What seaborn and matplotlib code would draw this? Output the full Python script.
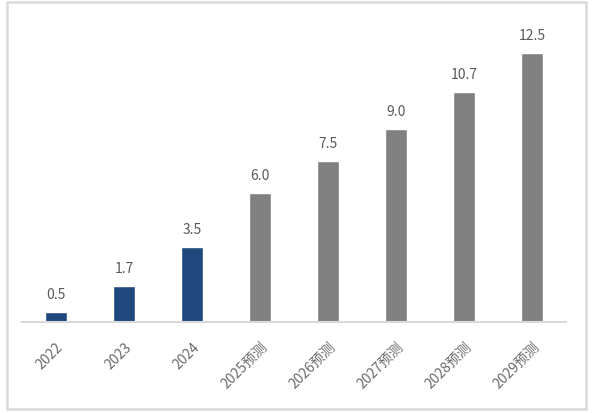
import pandas as pd
import matplotlib.pyplot as plt
import seaborn as sns
from matplotlib.patches import Rectangle

# chart data
years = ['2022', '2023', '2024', '2025预测', '2026预测', '2027预测', '2028预测', '2029预测']
values = [0.5, 1.7, 3.5, 6.0, 7.5, 9.0, 10.7, 12.5]
bar_colors = ['#1F497D'] * 3 + ['#808080'] * 5

df = pd.DataFrame({'year': years, 'value': values})

sns.set_style('white')
plt.rcParams['font.family'] = ['Noto Sans CJK SC', 'DejaVu Sans']

fig = plt.figure(figsize=(5.94, 4.14), dpi=100)
ax = fig.add_axes([0.037, 0.219, 0.916, 0.728])

sns.barplot(data=df, x='year', y='value', hue='year', palette=bar_colors,
            legend=False, width=0.32, ax=ax, saturation=1)

for i, v in enumerate(values):
    ax.text(i, v + 0.5, f'{v:.1f}', ha='center', va='bottom',
            fontsize=10, color='#595959')

ax.set_ylim(0, 14)
ax.set_xlim(-0.5, len(years) - 0.5)
ax.set_yticks([])
ax.set_xlabel('')
ax.set_ylabel('')
for s in ['top', 'right', 'left']:
    ax.spines[s].set_visible(False)
ax.spines['bottom'].set_color('#D9D9D9')
ax.spines['bottom'].set_linewidth(1.5)
ax.tick_params(axis='x', length=0, pad=12)
plt.setp(ax.get_xticklabels(), rotation=45, ha='right', rotation_mode='anchor',
         fontsize=10, color='#6A6A6A')

# light grey frame around the chart area
fig.patches.append(Rectangle((0.012, 0.01), 0.975, 0.982, transform=fig.transFigure,
                             fill=False, edgecolor='#D9D9D9', linewidth=1.8))

fig.savefig('out.png', dpi=100)
